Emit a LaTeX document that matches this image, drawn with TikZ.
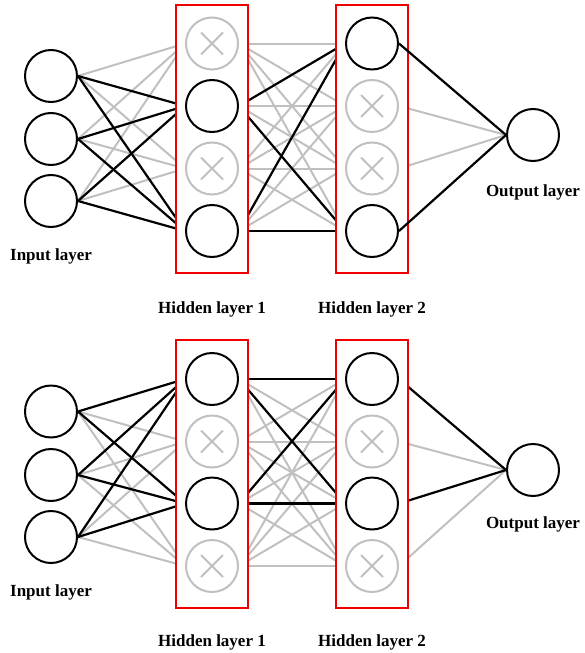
\documentclass[tikz,border=0pt]{standalone}
\usepackage{fontspec}
\setmainfont{Liberation Serif}
\definecolor{dropgray}{RGB}{192,192,192}
\definecolor{boxred}{RGB}{240,0,0}
\pgfdeclarelayer{edges}
\pgfdeclarelayer{boxes}
\pgfsetlayers{edges,boxes,main}
\begin{document}
\begin{tikzpicture}[x=1pt,y=-1pt,
  neuron/.style={circle,draw=black,line width=2pt,minimum size=52pt,inner sep=0pt,fill=white},
  dropped/.style={circle,draw=dropgray,line width=2pt,minimum size=52pt,inner sep=0pt,fill=white,
    path picture={\draw[dropgray,line width=1.8pt] (path picture bounding box.center) +(-11pt,-11pt) -- +(11pt,11pt) +(-11pt,11pt) -- +(11pt,-11pt);}},
  layerbox/.style={rectangle,draw=boxred,fill=white,line width=2.4pt,minimum width=72pt,minimum height=268pt,inner sep=0pt},
  on/.style={draw=black,line width=2.2pt},
  off/.style={draw=dropgray,line width=2pt},
  lbl/.style={font=\fontsize{17}{20}\selectfont\bfseries,inner sep=0pt}]
\useasboundingbox (0,0) rectangle (584,653);

% ================= TOP NETWORK =================
\begin{pgfonlayer}{boxes}
\node[layerbox] (tB1) at (212,139) {};
\node[layerbox] (tB2) at (372,139) {};
\end{pgfonlayer}
\node[neuron] (ti1) at (51,76) {};
\node[neuron] (ti2) at (51,139) {};
\node[neuron] (ti3) at (51,201) {};
\node[dropped] (ta1) at (212,43.5) {};
\node[neuron]  (ta2) at (212,106) {};
\node[dropped] (ta3) at (212,168.5) {};
\node[neuron]  (ta4) at (212,231) {};
\node[neuron]  (tb1) at (372,43.5) {};
\node[dropped] (tb2) at (372,106) {};
\node[dropped] (tb3) at (372,168.5) {};
\node[neuron]  (tb4) at (372,231) {};
\node[neuron]  (to) at (533,135) {};
\node[lbl] (tli) at (51,256) {Input layer};
\node[lbl] (tlh1) at (212,309) {Hidden layer 1};
\node[lbl] (tlh2) at (372,309) {Hidden layer 2};
\node[lbl] (tlo) at (533,192) {Output layer};

\begin{pgfonlayer}{edges}
  \foreach \i in {1,2,3} \foreach \j in {1,3} \draw[off] (ti\i.east) -- (ta\j.west);
  \foreach \j in {1,3} \foreach \k in {1,2,3,4} \draw[off] (ta\j.east) -- (tb\k.west);
  \foreach \j in {2,4} \foreach \k in {2,3} \draw[off] (ta\j.east) -- (tb\k.west);
  \foreach \k in {2,3} \draw[off] (tb\k.east) -- (to.west);
  \foreach \i in {1,2,3} \foreach \j in {2,4} \draw[on] (ti\i.east) -- (ta\j.west);
  \foreach \j in {2,4} \foreach \k in {1,4} \draw[on] (ta\j.east) -- (tb\k.west);
\end{pgfonlayer}
\foreach \k in {1,4} \draw[on] (tb\k.east) -- (to.west);

% ================= BOTTOM NETWORK =================
\begin{pgfonlayer}{boxes}
\node[layerbox] (bB1) at (212,474) {};
\node[layerbox] (bB2) at (372,474) {};
\end{pgfonlayer}
\node[neuron] (bi1) at (51,411.5) {};
\node[neuron] (bi2) at (51,475) {};
\node[neuron] (bi3) at (51,537) {};
\node[neuron]  (ba1) at (212,379) {};
\node[dropped] (ba2) at (212,441.5) {};
\node[neuron]  (ba3) at (212,503.5) {};
\node[dropped] (ba4) at (212,566) {};
\node[neuron]  (bb1) at (372,379) {};
\node[dropped] (bb2) at (372,441.5) {};
\node[neuron]  (bb3) at (372,503.5) {};
\node[dropped] (bb4) at (372,566) {};
\node[neuron]  (bo) at (533,470) {};
\node[lbl] (bli) at (51,592) {Input layer};
\node[lbl] (blh1) at (212,642) {Hidden layer 1};
\node[lbl] (blh2) at (372,642) {Hidden layer 2};
\node[lbl] (blo) at (533,524) {Output layer};

\begin{pgfonlayer}{edges}
  \foreach \i in {1,2,3} \foreach \j in {2,4} \draw[off] (bi\i.east) -- (ba\j.west);
  \foreach \j in {2,4} \foreach \k in {1,2,3,4} \draw[off] (ba\j.east) -- (bb\k.west);
  \foreach \j in {1,3} \foreach \k in {2,4} \draw[off] (ba\j.east) -- (bb\k.west);
  \foreach \k in {2,4} \draw[off] (bb\k.east) -- (bo.west);
  \foreach \i in {1,2,3} \foreach \j in {1,3} \draw[on] (bi\i.east) -- (ba\j.west);
  \foreach \j in {1,3} \foreach \k in {1,3} \draw[on] (ba\j.east) -- (bb\k.west);
  \foreach \k in {1,3} \draw[on] (bb\k.east) -- (bo.west);
\end{pgfonlayer}
\end{tikzpicture}
\end{document}
